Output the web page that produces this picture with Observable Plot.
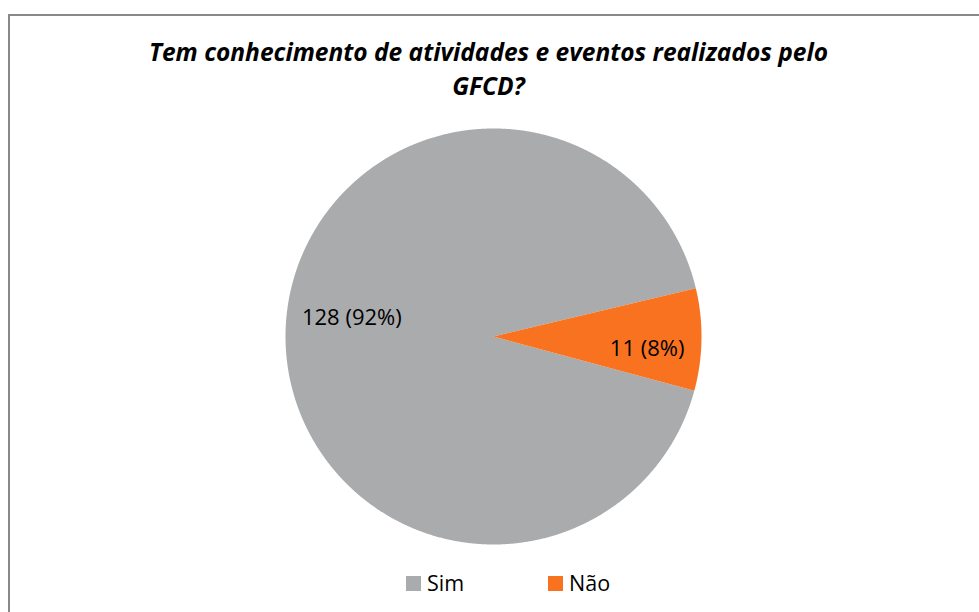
<!DOCTYPE html>
<html>
<head>
<meta charset="utf-8">
<script src="https://cdn.jsdelivr.net/npm/d3@7"></script>
<script src="https://cdn.jsdelivr.net/npm/@observablehq/plot@0.6"></script>
<style>
  html, body { margin: 0; padding: 0; background: #fff; }
  body { width: 979px; height: 612px; overflow: hidden; position: relative; font-family: "Open Sans", sans-serif; }
  #frame { position: absolute; left: 8px; top: 14px; width: 980px; height: 620px; border-top: 2px solid #898989; border-left: 2px solid #898989; box-sizing: border-box; }
  #title { position: absolute; left: 0; top: 35px; width: 977px; text-align: center; font-weight: bold; font-style: italic; font-size: 24.5px; line-height: 34px; color: #000; }
  #chart { position: absolute; left: 0; top: 110px; }
  #legend { position: absolute; top: 568px; left: 0; width: 979px; font-size: 21.5px; line-height: 30px; color: #000; }
  .item { position: absolute; display: flex; align-items: center; }
  .sw { width: 15px; height: 15px; margin-right: 6px; }
</style>
</head>
<body>
<div id="frame"></div>
<div id="title"></div>
<div id="chart"></div>
<div id="legend"></div>
<script>
const titleLines = ["Tem conhecimento de atividades e eventos realizados pelo", "GFCD?"];
const categories = ["Sim", "Não"];
const counts = [128, 11];
const percentLabels = ["92%", "8%"];
const colors = ["#AAABAD", "#F87220"];

document.getElementById("title").innerHTML = titleLines.join("<br>");

// pie geometry from data (angles in degrees, clockwise from 12 o'clock)
const startDeg = 105.1;
const pie = d3.pie().sort(null).value(d => d.count)
  .startAngle(startDeg * Math.PI / 180)
  .endAngle((startDeg + 360) * Math.PI / 180);
const rows = categories.map((name, i) => ({name, count: counts[i], label: `${counts[i]} (${percentLabels[i]})`}));
const arcs = pie(rows);

const pts = [];
for (const a of arcs) {
  const n = Math.max(4, Math.ceil((a.endAngle - a.startAngle) / (Math.PI / 720)));
  pts.push({name: a.data.name, x: 0, y: 0});
  for (let k = 0; k <= n; k++) {
    const t = a.startAngle + (a.endAngle - a.startAngle) * k / n;
    pts.push({name: a.data.name, x: Math.sin(t), y: Math.cos(t)});
  }
  pts.push({name: a.data.name, x: 0, y: 0});
}
const labelFactor = 0.71;
const labels = arcs.map(a => {
  const m = (a.startAngle + a.endAngle) / 2;
  return {name: a.data.name, label: a.data.label, x: Math.sin(m) * labelFactor, y: Math.cos(m) * labelFactor};
});

const cx = 493, cy = 226, R = 208;
const plot = Plot.plot({
  width: 979,
  height: 450,
  margin: 0,
  x: {domain: [-1, 1], range: [cx - R, cx + R], axis: null},
  y: {domain: [-1, 1], range: [cy + R, cy - R], axis: null},
  color: {domain: categories, range: colors},
  style: {fontFamily: "'Open Sans', sans-serif", background: "transparent"},
  marks: [
    Plot.line(pts, {x: "x", y: "y", z: "name", fill: "name", stroke: "none"}),
    Plot.text(labels.filter(d => d.name === "Sim"), {x: "x", y: "y", text: "label", fontSize: 22, fill: "#000", dx: 6, dy: -16}),
    Plot.text(labels.filter(d => d.name === "Não"), {x: "x", y: "y", text: "label", fontSize: 22, fill: "#000", dx: 6, dy: 10})
  ]
});
document.getElementById("chart").appendChild(plot);

const legend = document.getElementById("legend");
const legendX = [406, 548];
categories.forEach((c, i) => {
  const it = document.createElement("div");
  it.className = "item";
  it.style.left = legendX[i] + "px";
  it.innerHTML = `<div class="sw" style="background:${colors[i]}"></div><span>${c}</span>`;
  legend.appendChild(it);
});
</script>
</body>
</html>
